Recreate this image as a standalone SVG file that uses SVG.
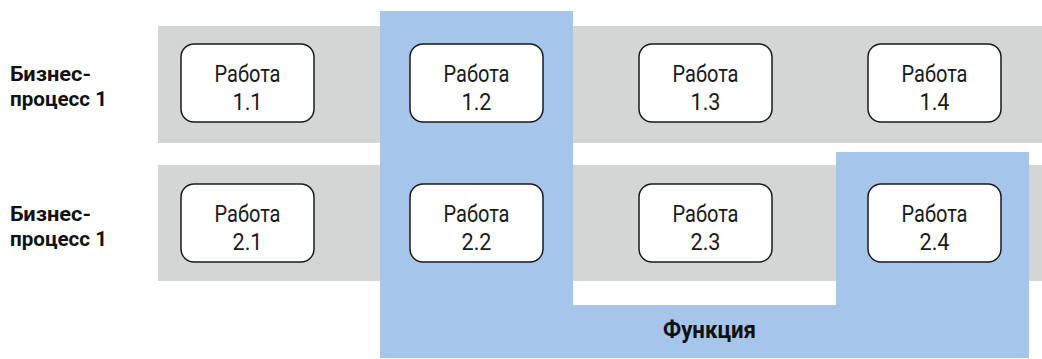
<svg xmlns="http://www.w3.org/2000/svg" width="1042" height="359" viewBox="0 0 1042 359">
<style>
.band{fill:#d4d5d5}
.func{fill:#a5c6ea}
.node rect{fill:#fff;stroke:#1a1a1a;stroke-width:1.5}
.nt{font-family:Roboto,"Liberation Sans",sans-serif;font-size:23px;fill:#1a1a1a;text-anchor:middle}
.lbl{font-family:Roboto,"Liberation Sans",sans-serif;font-size:21px;font-weight:bold;fill:#111}
.fl{font-family:Roboto,"Liberation Sans",sans-serif;font-size:24px;font-weight:bold;fill:#111}
</style>
<rect width="1042" height="359" fill="#fff"/>
<g id="lanes">
<rect class="band" x="158" y="26" width="884" height="117"/>
<rect class="band" x="158" y="165" width="884" height="116"/>
</g>
<path id="function" class="func" d="M380,11 H573 V305 H836 V152 H1029 V358 H380 Z"/>
<g id="connectors"></g>
<g id="label-bp1"><text class="lbl" x="10" y="81" textLength="81" lengthAdjust="spacingAndGlyphs">Бизнес-</text><text class="lbl" x="10" y="106" textLength="97" lengthAdjust="spacingAndGlyphs">процесс 1</text></g>
<g id="label-bp2"><text class="lbl" x="10" y="221" textLength="81" lengthAdjust="spacingAndGlyphs">Бизнес-</text><text class="lbl" x="10" y="246" textLength="97" lengthAdjust="spacingAndGlyphs">процесс 1</text></g>
<g id="n11" class="node"><rect x="181" y="44" width="133" height="78" rx="13"/><text class="nt" x="247.5" y="82" textLength="66" lengthAdjust="spacingAndGlyphs">Работа</text><text class="nt" x="247.5" y="109.5" textLength="30" lengthAdjust="spacingAndGlyphs">1.1</text></g>
<g id="n12" class="node"><rect x="410" y="44" width="133" height="78" rx="13"/><text class="nt" x="476.5" y="82" textLength="66" lengthAdjust="spacingAndGlyphs">Работа</text><text class="nt" x="476.5" y="109.5" textLength="30" lengthAdjust="spacingAndGlyphs">1.2</text></g>
<g id="n13" class="node"><rect x="639" y="44" width="133" height="78" rx="13"/><text class="nt" x="705.5" y="82" textLength="66" lengthAdjust="spacingAndGlyphs">Работа</text><text class="nt" x="705.5" y="109.5" textLength="30" lengthAdjust="spacingAndGlyphs">1.3</text></g>
<g id="n14" class="node"><rect x="868" y="44" width="133" height="78" rx="13"/><text class="nt" x="934.5" y="82" textLength="66" lengthAdjust="spacingAndGlyphs">Работа</text><text class="nt" x="934.5" y="109.5" textLength="30" lengthAdjust="spacingAndGlyphs">1.4</text></g>
<g id="n21" class="node"><rect x="181" y="184" width="133" height="78" rx="13"/><text class="nt" x="247.5" y="222" textLength="66" lengthAdjust="spacingAndGlyphs">Работа</text><text class="nt" x="247.5" y="249.5" textLength="30" lengthAdjust="spacingAndGlyphs">2.1</text></g>
<g id="n22" class="node"><rect x="410" y="184" width="133" height="78" rx="13"/><text class="nt" x="476.5" y="222" textLength="66" lengthAdjust="spacingAndGlyphs">Работа</text><text class="nt" x="476.5" y="249.5" textLength="30" lengthAdjust="spacingAndGlyphs">2.2</text></g>
<g id="n23" class="node"><rect x="639" y="184" width="133" height="78" rx="13"/><text class="nt" x="705.5" y="222" textLength="66" lengthAdjust="spacingAndGlyphs">Работа</text><text class="nt" x="705.5" y="249.5" textLength="30" lengthAdjust="spacingAndGlyphs">2.3</text></g>
<g id="n24" class="node"><rect x="868" y="184" width="133" height="78" rx="13"/><text class="nt" x="934.5" y="222" textLength="66" lengthAdjust="spacingAndGlyphs">Работа</text><text class="nt" x="934.5" y="249.5" textLength="30" lengthAdjust="spacingAndGlyphs">2.4</text></g>
<g id="label-func"><text class="fl" x="663" y="338" textLength="93" lengthAdjust="spacingAndGlyphs">Функция</text></g>
</svg>
